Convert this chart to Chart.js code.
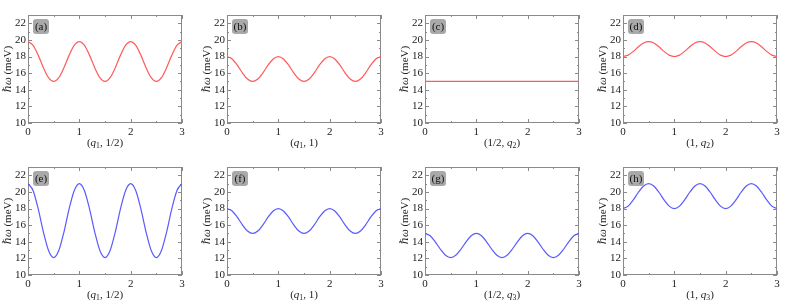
<!DOCTYPE html>
<html>
<head>
<meta charset="utf-8">
<script src="https://cdn.jsdelivr.net/npm/chart.js@4.4.0/dist/chart.umd.min.js"></script>
<style>
  body { margin: 0; background: #fff; width: 793px; height: 304px; position: relative; overflow: hidden; }
  canvas { position: absolute; }
</style>
</head>
<body>
<script>
// momentum along the path (r.l.u.)
const qValues = [0, 0.1, 0.2, 0.3, 0.4, 0.5, 0.6, 0.7, 0.8, 0.9, 1.0,
  1.1, 1.2, 1.3, 1.4, 1.5, 1.6, 1.7, 1.8, 1.9, 2.0,
  2.1, 2.2, 2.3, 2.4, 2.5, 2.6, 2.7, 2.8, 2.9, 3.0];

// energies in meV
const energyA = [19.8, 19.34, 18.14, 16.66, 15.46, 15.0, 15.46, 16.66, 18.14, 19.34, 19.8,
  19.34, 18.14, 16.66, 15.46, 15.0, 15.46, 16.66, 18.14, 19.34, 19.8,
  19.34, 18.14, 16.66, 15.46, 15.0, 15.46, 16.66, 18.14, 19.34, 19.8];
const energyB = [18.0, 17.71, 16.96, 16.04, 15.29, 15.0, 15.29, 16.04, 16.96, 17.71, 18.0,
  17.71, 16.96, 16.04, 15.29, 15.0, 15.29, 16.04, 16.96, 17.71, 18.0,
  17.71, 16.96, 16.04, 15.29, 15.0, 15.29, 16.04, 16.96, 17.71, 18.0];
const energyC = [15, 15, 15, 15, 15, 15, 15, 15, 15, 15, 15,
  15, 15, 15, 15, 15, 15, 15, 15, 15, 15,
  15, 15, 15, 15, 15, 15, 15, 15, 15, 15];
const energyD = [18.0, 18.17, 18.62, 19.18, 19.63, 19.8, 19.63, 19.18, 18.62, 18.17, 18.0,
  18.17, 18.62, 19.18, 19.63, 19.8, 19.63, 19.18, 18.62, 18.17, 18.0,
  18.17, 18.62, 19.18, 19.63, 19.8, 19.63, 19.18, 18.62, 18.17, 18.0];
const energyE = [21.0, 20.15, 17.93, 15.17, 12.95, 12.1, 12.95, 15.17, 17.93, 20.15, 21.0,
  20.15, 17.93, 15.17, 12.95, 12.1, 12.95, 15.17, 17.93, 20.15, 21.0,
  20.15, 17.93, 15.17, 12.95, 12.1, 12.95, 15.17, 17.93, 20.15, 21.0];
const energyF = [18.0, 17.71, 16.96, 16.04, 15.29, 15.0, 15.29, 16.04, 16.96, 17.71, 18.0,
  17.71, 16.96, 16.04, 15.29, 15.0, 15.29, 16.04, 16.96, 17.71, 18.0,
  17.71, 16.96, 16.04, 15.29, 15.0, 15.29, 16.04, 16.96, 17.71, 18.0];
const energyG = [15.0, 14.72, 14.0, 13.1, 12.38, 12.1, 12.38, 13.1, 14.0, 14.72, 15.0,
  14.72, 14.0, 13.1, 12.38, 12.1, 12.38, 13.1, 14.0, 14.72, 15.0,
  14.72, 14.0, 13.1, 12.38, 12.1, 12.38, 13.1, 14.0, 14.72, 15.0];
const energyH = [18.0, 18.29, 19.04, 19.96, 20.71, 21.0, 20.71, 19.96, 19.04, 18.29, 18.0,
  18.29, 19.04, 19.96, 20.71, 21.0, 20.71, 19.96, 19.04, 18.29, 18.0,
  18.29, 19.04, 19.96, 20.71, 21.0, 20.71, 19.96, 19.04, 18.29, 18.0];

const yTicks = [10, 12, 14, 16, 18, 20, 22];
const yMinorTicks = [11, 13, 15, 17, 19, 21];
const xTicks = [0, 1, 2, 3];
const xMinorTicks = [0.5, 1.5, 2.5];

const panelLabels = ["(a)", "(b)", "(c)", "(d)", "(e)", "(f)", "(g)", "(h)"];
// x-axis titles as runs: [text, style]  style: "" normal, "i" italic, "s" subscript
const xTitles = [
  [["(", ""], ["q", "i"], ["1", "s"], [", 1/2)", ""]],
  [["(", ""], ["q", "i"], ["1", "s"], [", 1)", ""]],
  [["(1/2, ", ""], ["q", "i"], ["2", "s"], [")", ""]],
  [["(1, ", ""], ["q", "i"], ["2", "s"], [")", ""]],
  [["(", ""], ["q", "i"], ["1", "s"], [", 1/2)", ""]],
  [["(", ""], ["q", "i"], ["1", "s"], [", 1)", ""]],
  [["(1/2, ", ""], ["q", "i"], ["3", "s"], [")", ""]],
  [["(1, ", ""], ["q", "i"], ["3", "s"], [")", ""]]
];
const yTitle = [["\u210Fω", "i"], [" (meV)", ""]];
const seriesList = [energyA, energyB, energyC, energyD, energyE, energyF, energyG, energyH];

const RED = "#ff5a5a";
const BLUE = "#5a5aff";
const FONT = "'Liberation Serif', 'DejaVu Serif', serif";

function drawRuns(ctx, runs, x, y, size) {
  const fontFor = (st) => (st === "i" ? "italic " : "") + (st === "s" ? size * 0.7 : size) + "px " + FONT;
  let total = 0;
  runs.forEach(r => { ctx.font = fontFor(r[1]); total += ctx.measureText(r[0]).width; });
  let cx = x - total / 2;
  ctx.textAlign = "left";
  ctx.textBaseline = "middle";
  runs.forEach(r => {
    ctx.font = fontFor(r[1]);
    ctx.fillText(r[0], cx, r[1] === "s" ? y + size * 0.25 : y);
    cx += ctx.measureText(r[0]).width;
  });
}

function roundRect(ctx, x, y, w, h, r) {
  ctx.beginPath();
  ctx.moveTo(x + r, y);
  ctx.arcTo(x + w, y, x + w, y + h, r);
  ctx.arcTo(x + w, y + h, x, y + h, r);
  ctx.arcTo(x, y + h, x, y, r);
  ctx.arcTo(x, y, x + w, y, r);
  ctx.closePath();
}

// frame, inward ticks on all four sides, panel tag and rich titles
const framePlugin = {
  id: "frame",
  beforeDatasetsDraw(chart) {
    const ctx = chart.ctx;
    const a = chart.chartArea;
    const xs = chart.scales.x, ys = chart.scales.y;
    ctx.save();
    ctx.strokeStyle = "#8a8a8a";
    ctx.lineWidth = 1;
    ctx.strokeRect(a.left + 0.5, a.top + 0.5, a.right - a.left - 1, a.bottom - a.top - 1);
    ctx.beginPath();
    const tick = (v, len, vertical) => {
      if (vertical) {
        const py = Math.round(ys.getPixelForValue(v)) + 0.5;
        ctx.moveTo(a.left, py); ctx.lineTo(a.left + len, py);
        ctx.moveTo(a.right, py); ctx.lineTo(a.right - len, py);
      } else {
        const px = Math.round(xs.getPixelForValue(v)) + 0.5;
        ctx.moveTo(px, a.bottom); ctx.lineTo(px, a.bottom - len);
        ctx.moveTo(px, a.top); ctx.lineTo(px, a.top + len);
      }
    };
    yTicks.forEach(v => tick(v, 4, true));
    yMinorTicks.forEach(v => tick(v, 2, true));
    xTicks.forEach(v => tick(v, 4, false));
    xMinorTicks.forEach(v => tick(v, 2, false));
    ctx.stroke();
    ctx.restore();
  },
  afterDraw(chart, args, opts) {
    const ctx = chart.ctx;
    const a = chart.chartArea;
    ctx.save();
    // panel tag
    ctx.fillStyle = "#a9a9a9";
    roundRect(ctx, a.left + 5, a.top + 4, 16, 15, 3);
    ctx.fill();
    ctx.fillStyle = "#111";
    ctx.font = "11px " + FONT;
    ctx.textAlign = "center";
    ctx.textBaseline = "middle";
    ctx.fillText(opts.tag, a.left + 13, a.top + 12);

    // axis titles
    ctx.fillStyle = "#222";
    drawRuns(ctx, opts.xTitle, (a.left + a.right) / 2, a.bottom + 20, 11);
    ctx.translate(a.left - 20, (a.top + a.bottom) / 2);
    ctx.rotate(-Math.PI / 2);
    drawRuns(ctx, yTitle, 0, 0, 11);
    ctx.restore();
  }
};

const colLeft = [0, 199, 397, 595];

seriesList.forEach((values, i) => {
  const canvas = document.createElement("canvas");
  canvas.width = 198;
  canvas.height = 152;
  canvas.style.left = colLeft[i % 4] + "px";
  canvas.style.top = (i < 4 ? 0 : 152) + "px";
  document.body.appendChild(canvas);

  new Chart(canvas.getContext("2d"), {
    type: "line",
    data: {
      datasets: [{
        data: qValues.map((q, k) => ({ x: q, y: values[k] })),
        borderColor: i < 4 ? RED : BLUE,
        borderWidth: 1.2,
        pointRadius: 0,
        fill: false,
        cubicInterpolationMode: "monotone"
      }]
    },
    options: {
      responsive: false,
      animation: false,
      layout: { padding: { top: 15, right: 16, left: 0, bottom: 0 } },
      plugins: {
        legend: { display: false },
        tooltip: { enabled: false },
        frame: { tag: panelLabels[i], xTitle: xTitles[i] }
      },
      scales: {
        x: {
          type: "linear",
          min: 0,
          max: 3,
          afterBuildTicks: s => { s.ticks = xTicks.map(v => ({ value: v })); },
          afterFit: s => { s.height = 29; },
          grid: { display: false, drawTicks: false },
          border: { display: false },
          ticks: { color: "#222", padding: 3, maxRotation: 0, font: { family: FONT, size: 11 } }
        },
        y: {
          min: 10,
          max: 23,
          afterBuildTicks: s => { s.ticks = yTicks.map(v => ({ value: v })); },
          afterFit: s => { s.width = 28; },
          grid: { display: false, drawTicks: false },
          border: { display: false },
          ticks: { color: "#222", padding: 2, font: { family: FONT, size: 11 } }
        }
      }
    },
    plugins: [framePlugin]
  });
});
</script>
</body>
</html>
